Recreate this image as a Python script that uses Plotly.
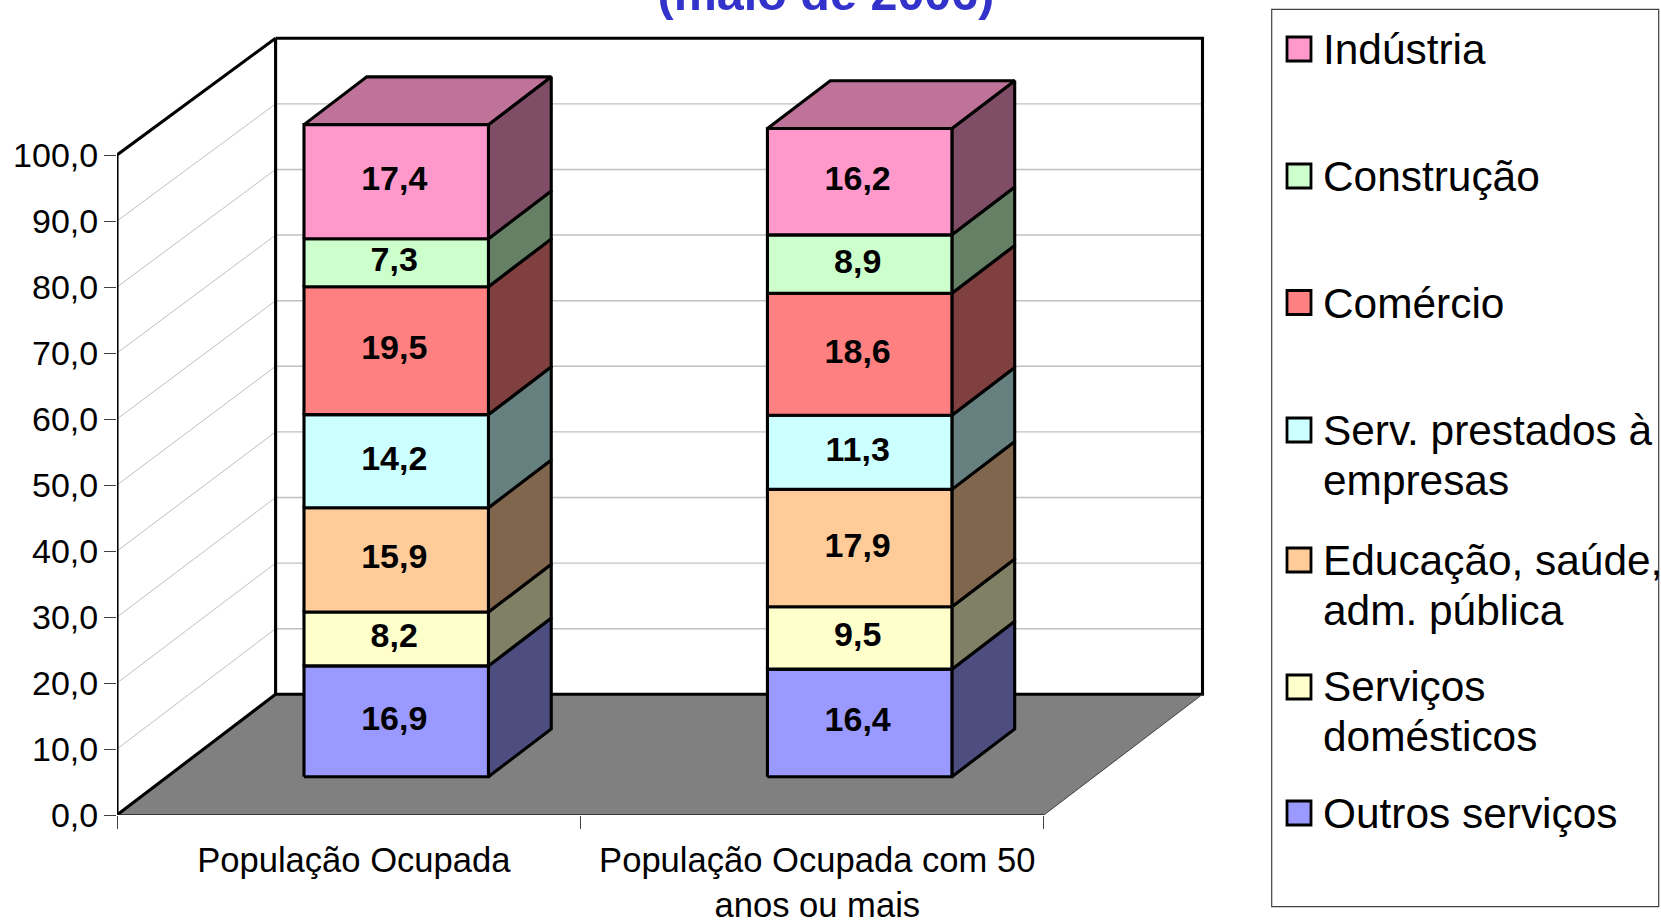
import plotly.graph_objects as go

# ---- data ----
categories = ["População Ocupada", "População Ocupada com 50<br>anos ou mais"]
series_names = ["Outros serviços", "Serviços domésticos", "Educação, saúde, adm. pública",
                "Serv. prestados à empresas", "Comércio", "Construção", "Indústria"]
outros = [16.9, 16.4]
domesticos = [8.2, 9.5]
educacao = [15.9, 17.9]
prestados = [14.2, 11.3]
comercio = [19.5, 18.6]
construcao = [7.3, 8.9]
industria = [17.4, 16.2]
series_values = [outros, domesticos, educacao, prestados, comercio, construcao, industria]
y_ticks = [0, 10, 20, 30, 40, 50, 60, 70, 80, 90, 100]
y_tick_labels = ["0,0", "10,0", "20,0", "30,0", "40,0", "50,0", "60,0", "70,0", "80,0", "90,0", "100,0"]

# ---- styles ----
front_colors = ["#9999FF", "#FFFFCC", "#FFCC99", "#CCFFFF", "#FF8080", "#CCFFCC", "#FF99CC"]
side_colors = ["#4D4D80", "#808066", "#80664D", "#668080", "#804040", "#668066", "#804D66"]
top_color = "#BF7399"
FONT = "Liberation Sans"
W, H = 1661, 921
ML, MR, MT, MB = 117, 446, 30, 106
PX_X = 463.45   # pixels per category
PX_Y = 6.6      # pixels per value unit
DX = 158.6 / PX_X   # oblique depth offset in x units
DY = 120.7 / PX_Y   # oblique depth offset in y units
BAR_L, BAR_W = 0.295, 0.398
D0, D1 = 0.317, 0.713
EDGE = 3.1
LABEL_SHIFT = -2 / PX_X


def proj(c, v, d):
    k = 1.0 if d == 0 else 0.994
    return c + d * DX, v * k + d * DY


def poly(points):
    pts = [proj(*p) for p in points]
    pts.append(pts[0])
    return [p[0] for p in pts], [p[1] for p in pts]


fig = go.Figure()


def line(points, color="black", width=EDGE):
    xs, ys = zip(*[proj(*p) for p in points])
    fig.add_trace(go.Scatter(x=xs, y=ys, mode="lines", line=dict(color=color, width=width),
                             showlegend=False, hoverinfo="skip", cliponaxis=False))


def face(polys, fill, name, width=EDGE, line_color="black"):
    xs, ys = [], []
    for p in polys:
        a, b = poly(p)
        xs += a + [None]
        ys += b + [None]
    fig.add_trace(go.Scatter(x=xs, y=ys, mode="lines", fill="toself", fillcolor=fill, name=name,
                             line=dict(color=line_color, width=width),
                             showlegend=False, hoverinfo="skip", cliponaxis=False))


# gridlines on the walls
for v in y_ticks[1:-1]:
    line([(0, v, 0), (0, v, 1)], "#C0C0C0", 1)
    line([(0, v, 1), (2, v, 1)], "#C0C0C0", 1.4)

# floor
face([[(0, 0, 0), (2, 0, 0), (2, 0, 1), (0, 0, 1)]], "#808080", "floor", width=0, line_color="#808080")
line([(0, 100, 1), (2, 100, 1), (2, 0, 1), (0, 0, 1), (0, 100, 1)])
line([(0, 0, 0), (0, 100, 0), (0, 100, 1)])
line([(0, 0, 0), (0, 0, 1)])
line([(0, 0, 0), (2, 0, 0)], "#202020", 1.3)
line([(2, 0, 0), (2, 0, 1)], "#404040", 1)

# stacked bars
base = [0.0, 0.0]
for s, vals in enumerate(series_values):
    fronts, sides, tops = [], [], []
    for i, v in enumerate(vals):
        x0, x1 = i + BAR_L, i + BAR_L + BAR_W
        lo, hi = base[i], base[i] + v
        fronts.append([(x0, lo, D0), (x1, lo, D0), (x1, hi, D0), (x0, hi, D0)])
        sides.append([(x1, lo, D0), (x1, lo, D1), (x1, hi, D1), (x1, hi, D0)])
        tops.append([(x0, hi, D0), (x1, hi, D0), (x1, hi, D1), (x0, hi, D1)])
    face(sides, side_colors[s], series_names[s])
    if s == len(series_values) - 1:
        face(tops, top_color, series_names[s])
    face(fronts, front_colors[s], series_names[s])
    base = [b + v for b, v in zip(base, vals)]

# data labels
base = [0.0, 0.0]
for s, vals in enumerate(series_values):
    xs, ys, txt = [], [], []
    for i, v in enumerate(vals):
        px, py = proj(i + BAR_L + BAR_W / 2, base[i] + v / 2, D0)
        xs.append(px + LABEL_SHIFT)
        ys.append(py)
        txt.append(f"{v:.1f}".replace(".", ","))
    fig.add_trace(go.Scatter(x=xs, y=ys, mode="text", text=txt, textposition="middle center",
                             textfont=dict(family=FONT, size=34, color="black", weight="bold"),
                             showlegend=False, hoverinfo="skip", cliponaxis=False))
    base = [b + v for b, v in zip(base, vals)]

plot_w = W - ML - MR
plot_h = H - MT - MB


def paper_x(px):
    return (px - ML) / plot_w


def paper_y(py):
    return (H - MB - py) / plot_h


# legend, drawn to the reference's spacing
shapes = [dict(type="rect", xref="paper", yref="paper", layer="above",
               x0=paper_x(1271.7), x1=paper_x(1658.7), y0=paper_y(906.7), y1=paper_y(9.3),
               line=dict(color="#404040", width=1.2), fillcolor="white")]
annotations = []
legend_rows = [
    (6, ["Indústria"], 49, 49),
    (5, ["Construção"], 176, 177),
    (4, ["Comércio"], 302.5, 303.5),
    (3, ["Serv. prestados à", "empresas"], 430, 430),
    (2, ["Educação, saúde,", "adm. pública"], 560, 560),
    (1, ["Serviços", "domésticos"], 687, 686),
    (0, ["Outros serviços"], 813, 813),
]
for idx, lines, yc, yt in legend_rows:
    shapes.append(dict(type="rect", xref="paper", yref="paper", layer="above",
                       x0=paper_x(1287), x1=paper_x(1311), y0=paper_y(yc + 12), y1=paper_y(yc - 12),
                       line=dict(color="black", width=2.8), fillcolor=front_colors[idx]))
    for n, t in enumerate(lines):
        annotations.append(dict(text=t, xref="paper", yref="paper", x=paper_x(1320.5),
                                y=paper_y(yt + n * 50.5), xanchor="left", yanchor="middle",
                                showarrow=False, align="left",
                                font=dict(family=FONT, size=42.4, color="black")))

fig.update_layout(
    width=W, height=H, autosize=False,
    margin=dict(l=ML, r=MR, t=MT, b=MB, pad=0, autoexpand=False),
    paper_bgcolor="white", plot_bgcolor="white",
    showlegend=False,
    font=dict(family=FONT, color="black"),
    title=dict(text="<b>(maio de 2006)</b>", x=826 / W, xanchor="center", xref="container",
               y=1 - 10 / H, yanchor="bottom", yref="container",
               font=dict(family=FONT, size=48.5, color="#3333CC")),
    xaxis=dict(range=[0, plot_w / PX_X], tickmode="array", tickvals=[0.511, 1.511], ticktext=categories,
               ticklen=0, showgrid=False, zeroline=False, showline=False, ticklabelstandoff=21,
               automargin=False,
               tickfont=dict(family=FONT, size=34.6, color="black"),
               minor=dict(tickmode="array", tickvals=[0, 1, 2], ticklen=12.5, tickwidth=1.2,
                          tickcolor="#404040", ticks="outside", showgrid=False)),
    yaxis=dict(range=[0, plot_h / PX_Y], tickmode="array", tickvals=y_ticks, ticktext=y_tick_labels,
               ticks="outside", ticklen=12, tickwidth=1.2, tickcolor="#404040",
               showgrid=False, zeroline=False, showline=False, ticklabelstandoff=-1,
               automargin=False,
               tickfont=dict(family=FONT, size=34, color="black")),
    shapes=shapes, annotations=annotations,
)

fig.write_html("out.html", config=dict(displayModeBar=False),
               post_script="document.body.style.margin='0';document.body.style.overflow='hidden';")
